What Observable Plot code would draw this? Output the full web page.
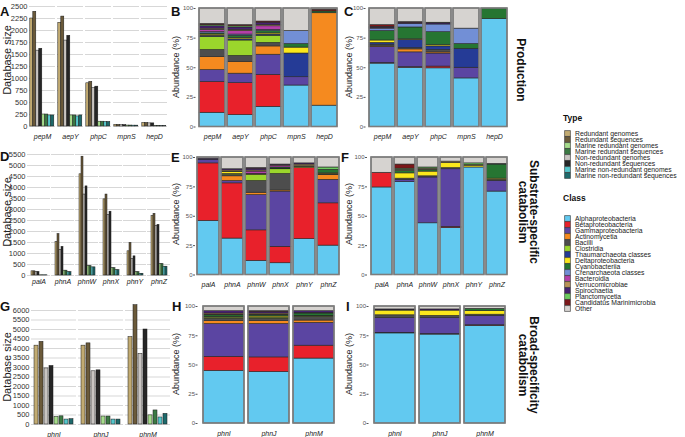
<!DOCTYPE html>
<html><head><meta charset="utf-8">
<script src="https://cdn.jsdelivr.net/npm/d3@7"></script>
<script src="https://cdn.jsdelivr.net/npm/@observablehq/plot@0.6"></script>
<style>
body{margin:0;background:#fff;}
#root{position:relative;width:685px;height:437px;overflow:hidden;background:#fff;}
</style></head><body><div id="root"></div>
<script>
// ---------- categories ----------
const types = ["Redundant genomes","Redundant sequences","Marine redundant genomes","Marine redundant sequences",
  "Non-redundant genomes","Non-redundant sequences","Marine non-redundant genomes","Marine non-redundant sequences"];
const typeColors = ["#c2ab72","#6b5a3a","#a6dc8c","#3c7a44","#c9c5c2","#262626","#56c7cc","#1e6a6c"];
// order of the bars inside each gene group (left to right)
const barTypes = ["Redundant genomes","Redundant sequences","Non-redundant genomes","Non-redundant sequences",
  "Marine redundant genomes","Marine redundant sequences","Marine non-redundant genomes","Marine non-redundant sequences"];
const classes = ["Alphaproteobacteria","Betaproteobacteria","Gammaproteobacteria","Actinomycetia","Bacilli","Clostridia",
  "Thaumarchaeota classes","Deltaproteobacteria","Cyanobacteriia","Crenarchaeota classes","Bacteroidia","Verrucomicrobiae",
  "Spirochaetia","Planctomycetia","Candidatus Marinimicrobia","Other"];
const classColors = ["#62c9f0","#e8212b","#5b45a2","#f58a1f","#4d4d4d","#9bd62c","#253b96","#fbe71c","#267532",
  "#728fd6","#b33fa8","#b89258","#472171","#6ccb5f","#7b1719","#d6d3d0"];

// ---------- genes ----------
const genesProd = ["pepM","aepY","phpC","mpnS","hepD"];
const genesSub = ["palA","phnA","phnW","phnX","phnY","phnZ"];
const genesBroad = ["phnI","phnJ","phnM"];

// ---------- database sizes (rows = genes, cols = barTypes) ----------
const sizesA = [
  [2250,2390,1580,1620,250,250,230,230],
  [2160,2290,1790,1890,230,230,210,230],
  [900,930,800,830,100,100,95,95],
  [35,35,30,30,20,20,18,18],
  [75,75,65,65,10,10,8,8]];
const sizesD = [
  [190,190,160,160,10,10,10,10],
  [1520,1880,1160,1300,220,220,150,150],
  [4600,5400,3680,4050,430,430,370,370],
  [3460,3680,2740,2900,330,330,240,240],
  [1100,1480,740,870,150,150,80,80],
  [2700,2800,2250,2300,520,520,400,400]];
const sizesG = [
  [4150,4350,2950,3080,400,430,260,280],
  [4150,4270,2800,2850,420,420,260,260],
  [4600,6280,3720,5000,480,740,370,560]];

// ---------- class abundance (%) (rows = genes, cols = classes) ----------
const compB = [
  [12,26,10,11,6,11,1,1,1,1,2,1,2,1,1,13],
  [10,27,8,10,5,13,1,1,2,1,3,1,2,1,1,14],
  [17,27,17,7,3,6,1,1,2,1,3,1,2,0,1,11],
  [35,0,7,0,0,0,20,5,3,11,0,0,0,0,0,19],
  [18,0,0,78,0,0,0,0,1.5,0,0,0,0,0,1.5,1]];
const compC = [
  [53.5,0.5,13.5,0.5,1.5,0,1.5,2,8,2,0,0.5,1,0,1.5,14],
  [50,0.5,12.5,2.5,1,0,7,0.5,10,3,0,0,1,0,0.5,11.5],
  [49.5,1.5,11,1,2,0,3,1,11,6.5,0,0,1,0,0.5,12],
  [41,0,9,0,0,0,16,0,4,13,0,0,0,0,0,17],
  [91,0,0,0,0,0,0,0,9,0,0,0,0,0,0,0]];
const compE = [
  [46,49,3,0,0,0,0,0,0,0,0,0,1,0,0,1],
  [31,47,2,4,1,1,0,1.5,0.5,0,0,1,1,0,0,10],
  [12,26,30,2,10,5,0,0.5,0.5,0,2,1,1.5,0,0.5,9],
  [10,14,47,1,14,4,0,0.5,1,0,1.5,0.5,0.5,0,0,6],
  [30.5,60.5,0,0,0,0,0,1,0.5,0,0,1.5,1,0,0,5],
  [25,36,20,4,0.5,0.5,0,0.5,3,0,0,0,0,2,0,8.5]];
const compF = [
  [74.5,12.5,0,0,0,0,0,0,0,0,0,0,0,0,0,13],
  [79,0,2,0,1,0,0,4.5,2,0,0,1,0,1,3.5,6],
  [44,0,39,0,1,0,0,4,1.5,0,0,1,0,1,0,8.5],
  [40,1,49,0,1,0,0,4.5,0,0,0,1,0,0,0,3.5],
  [91.5,0,0,0,0,0,0,1.5,0,0,0,0.5,0,1.5,0,5],
  [71,0,9,0,1,0,0,1,12,0,0,0,0.5,0,0,5.5]];
const compH = [
  [45,12,28,2.5,2,1,0,0.5,1.5,0,0.5,1,2,0,0,4],
  [44,12.5,28.5,2.5,2,1,0,1,1,0,0.5,1,1.5,0,0.5,4],
  [55.5,11,19.5,2,3,0.5,0,0.5,2,0,0,0.5,1.5,0,0,4]];
const compI = [
  [77,0.5,12.5,0,2.5,0,0,4,0.5,0,0,0,0.5,0,0,2.5],
  [76,0.5,13.5,0,2,0,0,4.5,0,0,0,0,1,0,0,2.5],
  [83.5,0.5,8,0,1,0,0,3,2,0,0,0,0,0,0,2]];

const abundanceTicks = [0,25,50,75,100];
const rowLabels = [["Production"],["Substrate-specific","catabolism"],["Broad-specificity","catabolism"]];

// ---------- drawing ----------
const FONT = '"Liberation Sans", Arial, Helvetica, sans-serif';
const root = document.getElementById("root");
function place(el, left, top){
  el.style.position = "absolute"; el.style.left = left + "px"; el.style.top = top + "px";
  root.appendChild(el); return el;
}
function styleGenes(svg, genes){
  d3.select(svg).selectAll("text").filter(function(){ return genes.includes(this.textContent); })
    .style("font-style","italic").style("font-size","7px").attr("fill","#222");
}

function sizePanel(o){
  const data = [];
  o.genes.forEach((g,i)=>barTypes.forEach((t,j)=>data.push({gene:g, type:t, value:o.sizes[i][j]})));
  const ticks = d3.range(0, o.tickMax + 1, o.step);
  const svg = Plot.plot({
    width:o.width, height:o.height,
    marginLeft:o.mL, marginRight:o.mR, marginTop:o.mT, marginBottom:o.mB,
    style:{fontFamily:FONT, fontSize:"7.5px", color:"#333", background:"none", overflow:"visible"},
    fx:{domain:o.genes, padding:o.fxPad, label:null, axis:"bottom", tickSize:0, tickPadding:o.xPad},
    x:{domain:barTypes, padding:0.14, axis:null},
    y:{domain:[0,o.yMax], ticks, tickFormat:d=>String(d), label:null, tickSize:0, tickPadding:2},
    color:{domain:types, range:typeColors},
    marks:[
      Plot.ruleY(ticks, {stroke:"#d7d7d7", strokeWidth:1}),
      Plot.barY(data, {fx:"gene", x:"type", y:"value", fill:"type", stroke:"#1a1a1a", strokeWidth:0.5})
    ]
  });
  styleGenes(svg, o.genes);
  place(svg, o.left, o.top);
}

function stackPanel(o){
  const data = [];
  o.genes.forEach((g,i)=>o.comps[i].forEach((v,j)=>{ if (v > 0) data.push({gene:g, cls:classes[j], value:v}); }));
  const svg = Plot.plot({
    width:o.width, height:o.height,
    marginLeft:o.mL, marginRight:o.mR, marginTop:o.mT, marginBottom:o.mB,
    style:{fontFamily:FONT, fontSize:"6px", color:"#555", background:"none", overflow:"visible"},
    x:{domain:o.genes, padding:0.08, label:null, tickSize:0, tickPadding:o.xPad},
    y:{domain:[0,100], ticks:abundanceTicks, label:null, tickSize:2, tickPadding:1},
    color:{domain:classes, range:classColors},
    marks:[
      Plot.barY(data, {x:"gene", y:"value", fill:"cls", order:classes, stroke:"#262626", strokeWidth:0.6}),
      Plot.barY(data, Plot.groupX({y:"sum"}, {x:"gene", y:"value", fill:"none", stroke:"#7d7d7d", strokeWidth:1.6}))
    ]
  });
  styleGenes(svg, o.genes);
  place(svg, o.left, o.top);
}

sizePanel({genes:genesProd, sizes:sizesA, left:0, top:0, width:172, height:145, mL:28.2, mR:3.2, mT:6, mB:19,
  yMax:2500, tickMax:2500, step:250, fxPad:0.065, xPad:7.5});
sizePanel({genes:genesSub, sizes:sizesD, left:0, top:145, width:172, height:145, mL:27, mR:2, mT:9, mB:15,
  yMax:5500, tickMax:5500, step:500, fxPad:0.06, xPad:3.5});
sizePanel({genes:genesBroad, sizes:sizesG, left:0, top:290, width:172, height:147, mL:30, mR:2, mT:14.3, mB:13,
  yMax:6300, tickMax:6000, step:500, fxPad:0.05, xPad:7.5});

stackPanel({genes:genesProd, comps:compB, left:168, top:0, width:174, height:145, mL:27.5, mR:1.5, mT:8, mB:18.5, xPad:7});
stackPanel({genes:genesProd, comps:compC, left:338, top:0, width:174, height:145, mL:27.5, mR:2, mT:8, mB:18.5, xPad:7});
stackPanel({genes:genesSub, comps:compE, left:168, top:145, width:174, height:145, mL:27, mR:1, mT:12, mB:15.5, xPad:7});
stackPanel({genes:genesSub, comps:compF, left:338, top:145, width:174, height:145, mL:29, mR:1, mT:12, mB:15.5, xPad:7});
stackPanel({genes:genesBroad, comps:compH, left:168, top:290, width:174, height:147, mL:29.5, mR:3, mT:16, mB:14, xPad:8});
stackPanel({genes:genesBroad, comps:compI, left:338, top:290, width:174, height:147, mL:30.5, mR:2, mT:16, mB:14, xPad:8});

// ---------- legends ----------
function legendPanel(keys, colors, left, top, width, height, y0, y1){
  const svg = Plot.plot({
    width, height, margin:0,
    style:{fontFamily:FONT, fontSize:"6.8px", color:"#222", background:"none", overflow:"visible"},
    x:{domain:[0,1], range:[6,width], axis:null},
    y:{type:"point", domain:keys, range:[y0,y1], axis:null},
    color:{domain:keys, range:colors},
    marks:[
      Plot.dot(keys, {x:()=>0, y:d=>d, fill:d=>d, symbol:"square", r:3.3, stroke:"#333", strokeWidth:0.6}),
      Plot.text(keys, {x:()=>0, y:d=>d, text:d=>d, textAnchor:"start", dx:7.5, fill:"#222"})
    ]
  });
  place(svg, left, top);
}
legendPanel(types, typeColors, 561, 110, 123, 80, 18.3, 69.3);
legendPanel(classes, classColors, 561, 200, 123, 125, 7.7, 117.7);

// ---------- overlay text ----------
const ov = d3.create("svg").attr("width",685).attr("height",437)
  .style("position","absolute").style("left","0px").style("top","0px").style("pointer-events","none")
  .style("font-family",FONT);
const letters = [["A",0,16],["B",171,16],["C",344,16],["D",0,161],["E",171,162],["F",341,162],["G",0,311],["H",172,311],["I",346,311]];
ov.selectAll("text.letter").data(letters).join("text").attr("class","letter")
  .attr("x",d=>d[1]).attr("y",d=>d[2]).text(d=>d[0]).attr("font-size",13).attr("font-weight","bold").attr("fill","#111");
const ylabs = [["Database size",10.5,60,11],["Database size",10.5,212,11],["Database size",10.5,367,11],
  ["Abundance (%)",179,67,9],["Abundance (%)",351.5,67,9],["Abundance (%)",179,214,9],["Abundance (%)",351.5,214,9],
  ["Abundance (%)",179,364,9],["Abundance (%)",351.5,364,9]];
ov.selectAll("text.ylab").data(ylabs).join("text").attr("class","ylab")
  .attr("transform",d=>`translate(${d[1]},${d[2]}) rotate(-90)`).attr("text-anchor","middle")
  .attr("font-size",d=>d[3]).attr("fill","#222").text(d=>d[0]);
const rowPos = [70,212,365];
rowLabels.forEach((lines,r)=>{
  lines.forEach((s,k)=>{
    const x = lines.length === 1 ? 517 : (k === 0 ? 530 : 519);
    ov.append("text").attr("transform",`translate(${x},${rowPos[r]}) rotate(90)`).attr("text-anchor","middle")
      .attr("font-size",12).attr("font-weight","bold").attr("fill","#111").text(s);
  });
});
ov.append("text").attr("x",563).attr("y",120.5).attr("font-size",8.5).attr("font-weight","bold").attr("fill","#111").text("Type");
ov.append("text").attr("x",563).attr("y",201).attr("font-size",8.5).attr("font-weight","bold").attr("fill","#111").text("Class");
root.appendChild(ov.node());
</script></body></html>
